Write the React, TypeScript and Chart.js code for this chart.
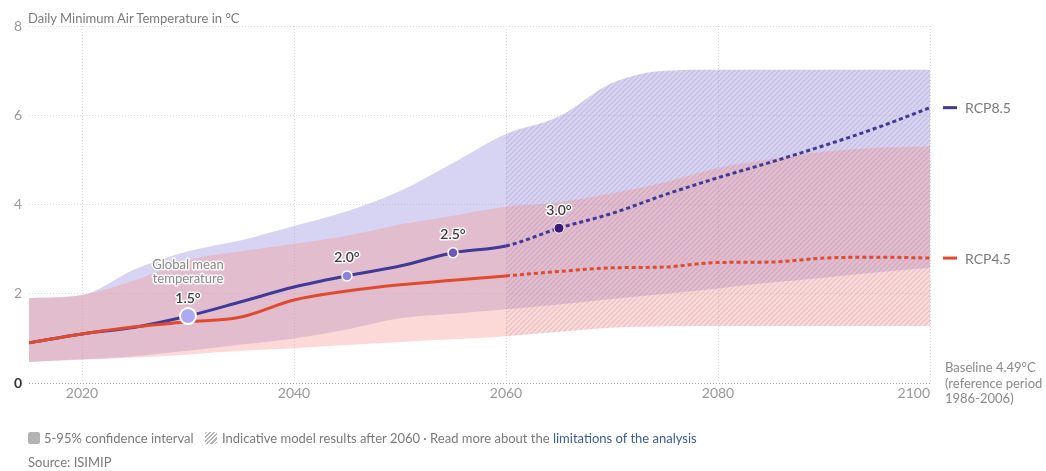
import React, { useEffect, useRef } from 'react';
import { Chart, registerables } from 'chart.js';

Chart.register(...registerables);

// ---- data ----
const years = [2015, 2020, 2025, 2030, 2035, 2040, 2045, 2050, 2055, 2060, 2065, 2070, 2075, 2080, 2085, 2090, 2095, 2100];
const rcp85 = [0.9, 1.1, 1.25, 1.5, 1.82, 2.15, 2.4, 2.62, 2.92, 3.07, 3.47, 3.8, 4.22, 4.6, 4.95, 5.32, 5.72, 6.17];
const rcp45 = [0.9, 1.1, 1.26, 1.37, 1.48, 1.86, 2.06, 2.2, 2.3, 2.4, 2.5, 2.58, 2.6, 2.7, 2.71, 2.8, 2.82, 2.8];
const rcp85Upper = [1.9, 1.97, 2.55, 2.95, 3.2, 3.52, 3.85, 4.3, 4.93, 5.58, 5.97, 6.72, 7.0, 7.02, 7.02, 7.02, 7.02, 7.02];
const rcp85Lower = [0.47, 0.53, 0.6, 0.72, 0.86, 1.0, 1.2, 1.45, 1.55, 1.65, 1.76, 1.88, 2.0, 2.12, 2.25, 2.36, 2.48, 2.58];
const rcp45Upper = [1.9, 1.97, 2.3, 2.75, 2.95, 3.12, 3.3, 3.55, 3.75, 3.95, 4.05, 4.25, 4.5, 4.82, 5.02, 5.18, 5.27, 5.3];
const rcp45Lower = [0.47, 0.52, 0.57, 0.64, 0.72, 0.78, 0.85, 0.92, 0.98, 1.05, 1.15, 1.24, 1.27, 1.28, 1.28, 1.28, 1.28, 1.28];
const projectionStart = 2060;
const markerYears = [2030, 2045, 2055, 2065];
const markerValues = [1.5, 2.4, 2.92, 3.47];
const markerLabels = ['1.5°', '2.0°', '2.5°', '3.0°'];
const xTicks = [2020, 2040, 2060, 2080, 2100];
const seriesNames = ['RCP8.5', 'RCP4.5'];
const baselineLines = ['Baseline 4.49°C', '(reference period', '1986-2006)'];

const PURPLE = '#3f3a98';
const RED = '#e04a2e';
const FONT = 'Lato, "Open Sans", sans-serif';
const LAST_X = xTicks[xTicks.length - 1];

function makeHatch(): CanvasPattern | string {
  const c = document.createElement('canvas');
  c.width = 5;
  c.height = 5;
  const g = c.getContext('2d');
  if (!g) return 'rgba(0,0,0,0)';
  g.strokeStyle = 'rgba(110,80,130,0.17)';
  g.lineWidth = 1.2;
  g.beginPath();
  g.moveTo(0, 5); g.lineTo(5, 0);
  g.moveTo(-1, 1); g.lineTo(1, -1);
  g.moveTo(4, 6); g.lineTo(6, 4);
  g.stroke();
  return g.createPattern(c, 'repeat') || 'rgba(0,0,0,0)';
}

function haloText(ctx: CanvasRenderingContext2D, text: string, x: number, y: number, color: string) {
  ctx.lineWidth = 3;
  ctx.strokeStyle = 'rgba(255,255,255,0.9)';
  ctx.lineJoin = 'round';
  ctx.strokeText(text, x, y);
  ctx.fillStyle = color;
  ctx.fillText(text, x, y);
}

const annotPlugin = {
  id: 'annot',
  afterDatasetsDraw(chart: any) {
    const { ctx, scales } = chart;
    const x = scales.x;
    const y = scales.y;
    ctx.save();
    ctx.textAlign = 'center';
    ctx.textBaseline = 'middle';
    markerYears.forEach((yr, i) => {
      const px = x.getPixelForValue(yr);
      const py = y.getPixelForValue(markerValues[i]);
      ctx.font = `600 14px ${FONT}`;
      haloText(ctx, markerLabels[i], px, py - 18, '#3c3c3c');
      if (i === 0) {
        ctx.font = `13px ${FONT}`;
        haloText(ctx, 'Global mean', px, py - 51, '#8a8a8a');
        haloText(ctx, 'temperature', px, py - 37, '#8a8a8a');
      }
    });
    // last x tick label, right-aligned to plot edge
    ctx.textAlign = 'right';
    ctx.font = `14px ${FONT}`;
    ctx.fillStyle = '#9a9a9a';
    ctx.fillText(String(LAST_X), x.getPixelForValue(LAST_X), chart.chartArea.bottom + 10.4);
    // right legend
    const ends = [rcp85[rcp85.length - 1], rcp45[rcp45.length - 1]];
    const cols = [PURPLE, RED];
    const right = chart.chartArea.right;
    ctx.textAlign = 'left';
    ctx.font = `14px ${FONT}`;
    ends.forEach((v, i) => {
      const py = y.getPixelForValue(v);
      ctx.strokeStyle = cols[i];
      ctx.lineWidth = 3;
      ctx.beginPath();
      ctx.moveTo(right + 13, py);
      ctx.lineTo(right + 27, py);
      ctx.stroke();
      ctx.fillStyle = '#7a7a7a';
      ctx.fillText(seriesNames[i], right + 35, py + 1);
    });
    ctx.font = `13px ${FONT}`;
    ctx.fillStyle = '#8a8a8a';
    baselineLines.forEach((t, i) => {
      ctx.fillText(t, right + 15, 368 + i * 15.5);
    });
    ctx.restore();
  },
};

export default function App() {
  const ref = useRef<HTMLCanvasElement>(null);

  useEffect(() => {
    const canvas = ref.current;
    if (!canvas) return;
    const hatch = makeHatch();
    const pts = (vals: number[]) => years.map((yr, i) => ({ x: yr, y: vals[i] }));
    const startIdx = years.indexOf(projectionStart);
    const ptsFrom = (vals: number[]) => years.slice(startIdx).map((yr, j) => ({ x: yr, y: vals[startIdx + j] }));
    const bandBase = {
      pointRadius: 0,
      borderWidth: 0,
      borderColor: 'rgba(0,0,0,0)',
      cubicInterpolationMode: 'monotone' as const,
    };
    const dashAfter = (c: any) => (c.p0.parsed.x >= projectionStart ? [4, 3] : undefined);

    const chart = new Chart(canvas, {
      type: 'line',
      data: {
        datasets: [
          { ...bandBase, label: 'r85u', data: pts(rcp85Upper), fill: 1, backgroundColor: 'rgba(160,150,225,0.42)', order: 6 },
          { ...bandBase, label: 'r85l', data: pts(rcp85Lower), fill: false, order: 6 },
          { ...bandBase, label: 'r45u', data: pts(rcp45Upper), fill: 3, backgroundColor: 'rgba(246,150,140,0.36)', order: 5 },
          { ...bandBase, label: 'r45l', data: pts(rcp45Lower), fill: false, order: 5 },
          { ...bandBase, label: 'hu', data: ptsFrom(rcp85Upper), fill: 5, backgroundColor: hatch as any, order: 4 },
          { ...bandBase, label: 'hl', data: ptsFrom(rcp45Lower), fill: false, order: 4 },
          {
            label: seriesNames[0], data: pts(rcp85), borderColor: PURPLE, borderWidth: 3, pointRadius: 0,
            fill: false, cubicInterpolationMode: 'monotone', borderCapStyle: 'butt',
            segment: { borderDash: dashAfter }, order: 2,
          },
          {
            label: seriesNames[1], data: pts(rcp45), borderColor: RED, borderWidth: 3, pointRadius: 0,
            fill: false, cubicInterpolationMode: 'monotone', borderCapStyle: 'butt',
            segment: { borderDash: dashAfter }, order: 1,
          },
          {
            label: 'markers', data: markerYears.map((yr, i) => ({ x: yr, y: markerValues[i] })),
            showLine: false, fill: false,
            pointRadius: [8, 5, 5, 5],
            pointBackgroundColor: ['#aeaaf2', '#8c82da', '#6f56bd', '#3a1a76'],
            pointBorderColor: '#ffffff',
            pointBorderWidth: [2, 1.5, 1.5, 1],
            order: 0,
          },
        ] as any,
      },
      options: {
        animation: false,
        responsive: false,
        devicePixelRatio: 1,
        layout: { padding: { left: 0, top: 26, right: 116, bottom: 0 } },
        plugins: { legend: { display: false }, tooltip: { enabled: false } },
        elements: { line: { tension: 0 } },
        scales: {
          x: {
            type: 'linear',
            min: 2015,
            max: 2100,
            afterBuildTicks: (s: any) => { s.ticks = xTicks.map((v) => ({ value: v })); },
            afterFit: (s: any) => { s.height = 88; },
            ticks: {
              color: '#9a9a9a',
              font: { family: FONT, size: 14 },
              padding: 2,
              maxRotation: 0,
              autoSkip: false,
              callback: (v: any) => (v === LAST_X ? '' : String(v)),
            },
            grid: { color: '#d8d8d8', drawTicks: false, lineWidth: 1 },
            border: { display: false, dash: [1, 2] },
          },
          y: {
            min: 0,
            max: 8,
            afterFit: (s: any) => { s.width = 29; },
            ticks: {
              stepSize: 2,
              padding: 7,
              color: (c: any) => (c.tick && c.tick.value === 0 ? '#333333' : '#9a9a9a'),
              font: (c: any) => ({ family: FONT, size: 14, weight: c.tick && c.tick.value === 0 ? 'bold' : 'normal' }),
            },
            grid: {
              color: (c: any) => (c.tick && c.tick.value === 0 ? '#a8a8a8' : '#dedede'),
              drawTicks: false,
              lineWidth: 1,
            },
            border: { display: false, dash: [1, 2] },
          },
        },
      } as any,
      plugins: [annotPlugin],
    });
    return () => chart.destroy();
  }, []);

  const textStyle: React.CSSProperties = {
    position: 'absolute',
    fontSize: 13,
    color: '#7a7a7a',
    lineHeight: '16px',
    whiteSpace: 'nowrap',
  };

  return (
    <div style={{ position: 'fixed', left: 0, top: 0, width: 1046, height: 471, fontFamily: FONT, background: '#fff' }}>
      <canvas ref={ref} width={1046} height={471} style={{ position: 'absolute', left: 0, top: 0 }} />
      <div style={{ ...textStyle, left: 28, top: 10 }}>Daily Minimum Air Temperature in °C</div>
      <div style={{ position: 'absolute', left: 28, top: 432, width: 12, height: 12, background: '#b3b3b3', borderRadius: 2 }} />
      <div style={{ ...textStyle, left: 44, top: 430 }}>5-95% confidence interval</div>
      <div
        style={{
          position: 'absolute', left: 205, top: 432, width: 12, height: 12, borderRadius: 2,
          background: 'repeating-linear-gradient(135deg, #b3b3b3 0px, #b3b3b3 1.5px, #ffffff 1.5px, #ffffff 3px)',
        }}
      />
      <div style={{ ...textStyle, left: 222, top: 430 }}>
        Indicative model results after 2060 · Read more about the{' '}
        <span style={{ color: '#3b5b9a' }}>limitations of the analysis</span>
      </div>
      <div style={{ ...textStyle, left: 28, top: 454 }}>Source: ISIMIP</div>
    </div>
  );
}
